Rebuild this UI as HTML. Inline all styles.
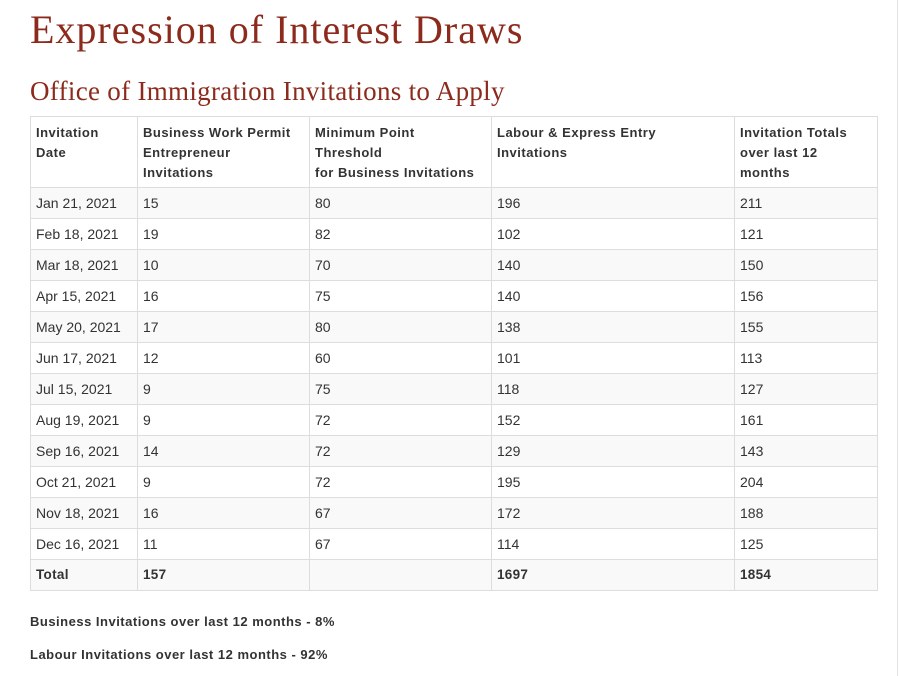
<!DOCTYPE html>
<html><head><meta charset="utf-8"><style>
body{margin:0;width:900px;height:676px;background:#fff;position:relative;overflow:hidden;font-family:"Liberation Sans",Arial,sans-serif;color:#333}
h1{position:absolute;left:30px;top:6px;margin:0;font:normal 40px "Liberation Serif",serif;color:#8c2a1c;letter-spacing:1px}
h2{position:absolute;left:30px;top:76px;margin:0;font:normal 27px "Liberation Serif",serif;color:#8c2a1c;letter-spacing:0.3px}
table{position:absolute;left:30px;top:116px;border-collapse:collapse;table-layout:fixed;width:847px}
td,th{border:1px solid #ddd;padding:0 5px;font-size:14px;text-align:left;vertical-align:top}
th{font-size:13px;font-weight:bold;line-height:20px;padding-top:6px;height:64px;letter-spacing:0.5px}
td{height:30px;line-height:30px}
tbody tr:nth-child(odd){background:#f9f9f9}
tr.total td{font-weight:bold;font-size:13.5px;letter-spacing:0.3px}
.note{position:absolute;left:30px;font-size:13px;font-weight:bold;color:#333;letter-spacing:0.5px}
.vline{position:absolute;left:897px;top:0;width:1px;height:676px;background:#e4e4e4}
</style></head><body>
<div class="vline"></div>
<h1>Expression of Interest Draws</h1>
<h2>Office of Immigration Invitations to Apply</h2>
<table>
<colgroup><col style="width:107px"><col style="width:172px"><col style="width:182px"><col style="width:243px"><col style="width:143px"></colgroup>
<thead><tr>
<th>Invitation<br>Date</th>
<th>Business Work Permit<br>Entrepreneur<br>Invitations</th>
<th>Minimum Point<br>Threshold<br>for Business Invitations</th>
<th>Labour &amp; Express Entry<br>Invitations</th>
<th>Invitation Totals<br>over last 12<br>months</th>
</tr></thead>
<tbody>
<tr><td>Jan 21, 2021</td><td>15</td><td>80</td><td>196</td><td>211</td></tr>
<tr><td>Feb 18, 2021</td><td>19</td><td>82</td><td>102</td><td>121</td></tr>
<tr><td>Mar 18, 2021</td><td>10</td><td>70</td><td>140</td><td>150</td></tr>
<tr><td>Apr 15, 2021</td><td>16</td><td>75</td><td>140</td><td>156</td></tr>
<tr><td>May 20, 2021</td><td>17</td><td>80</td><td>138</td><td>155</td></tr>
<tr><td>Jun 17, 2021</td><td>12</td><td>60</td><td>101</td><td>113</td></tr>
<tr><td>Jul 15, 2021</td><td>9</td><td>75</td><td>118</td><td>127</td></tr>
<tr><td>Aug 19, 2021</td><td>9</td><td>72</td><td>152</td><td>161</td></tr>
<tr><td>Sep 16, 2021</td><td>14</td><td>72</td><td>129</td><td>143</td></tr>
<tr><td>Oct 21, 2021</td><td>9</td><td>72</td><td>195</td><td>204</td></tr>
<tr><td>Nov 18, 2021</td><td>16</td><td>67</td><td>172</td><td>188</td></tr>
<tr><td>Dec 16, 2021</td><td>11</td><td>67</td><td>114</td><td>125</td></tr>
<tr class="total"><td>Total</td><td>157</td><td></td><td>1697</td><td>1854</td></tr>
</tbody></table>
<div class="note" style="top:614px">Business Invitations over last 12 months - 8%</div>
<div class="note" style="top:647px">Labour Invitations over last 12 months - 92%</div>
</body></html>
